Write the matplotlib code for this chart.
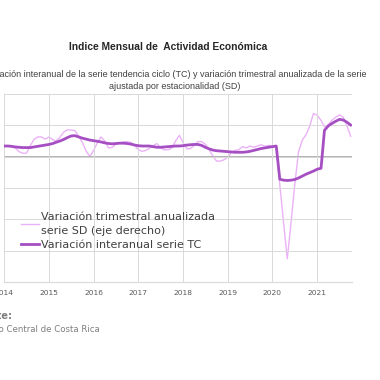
import numpy as np
import pandas as pd
import matplotlib
matplotlib.use("Agg")
import matplotlib.pyplot as plt
import matplotlib.dates as mdates

# ----------------------------
# Datos (ene-2014 a oct-2021, mensual)
# ----------------------------
fechas = pd.date_range("2014-01-01", "2021-10-01", freq="MS")

# Variación interanual serie TC (eje izquierdo)
tc = [
    3.4, 3.4, 3.3, 3.1, 3.0, 2.9, 2.9, 2.9, 3.1, 3.3, 3.5, 3.7,
    3.9, 4.2, 4.6, 5.0, 5.5, 6.1, 6.6, 6.7, 6.3, 5.9, 5.6, 5.3,
    5.1, 4.9, 4.7, 4.4, 4.2, 4.1, 4.2, 4.3, 4.3, 4.2, 4.0, 3.7,
    3.5, 3.4, 3.4, 3.4, 3.2, 3.0, 3.0, 3.1, 3.2, 3.3, 3.4, 3.4,
    3.5, 3.7, 3.8, 3.9, 3.9, 3.6, 3.0, 2.5, 2.1, 1.9, 1.8, 1.7,
    1.6, 1.5, 1.4, 1.4, 1.4, 1.5, 1.7, 2.0, 2.3, 2.6, 2.8, 3.0,
    3.2, 3.4, -7.2, -7.5, -7.6, -7.5, -7.3, -6.8, -6.2, -5.6, -5.1, -4.6,
    -4.0, -3.7, 8.4, 9.8, 10.6, 11.3, 11.9, 11.7, 11.0, 10.1,
]

# Variación trimestral anualizada serie SD (eje derecho)
sd = [
    3.4, 3.3, 3.2, 2.8, 1.6, 1.1, 1.1, 3.5, 5.5, 6.3, 6.3, 5.6,
    6.3, 5.4, 5.0, 6.2, 7.8, 8.6, 8.5, 8.3, 6.5, 4.5, 1.8, 0.0,
    2.0, 4.5, 6.3, 5.0, 2.8, 3.0, 4.0, 4.4, 4.7, 4.8, 4.5, 3.6,
    2.2, 1.7, 2.0, 2.7, 3.5, 4.2, 2.8, 2.2, 2.2, 2.8, 5.0, 6.8,
    4.5, 2.5, 2.6, 3.5, 4.8, 4.8, 4.0, 2.3, 0.2, -1.4, -1.4, -1.0,
    -0.1, 1.4, 2.0, 2.2, 3.2, 2.8, 3.4, 3.0, 3.4, 3.8, 3.3, 3.6,
    3.4, 3.0, -9.0, -21.0, -32.6, -21.0, -9.0, 1.5, 5.3, 7.0, 9.8, 13.8,
    13.2, 11.6, 9.5, 10.2, 11.6, 12.6, 13.3, 12.6, 9.8, 6.5,
]

lbl_sd = "Variación trimestral anualizada\nserie SD (eje derecho)"
lbl_tc = "Variación interanual serie TC"

titulo = "Indice Mensual de  Actividad Económica"
subtitulo = ("Variación interanual de la serie tendencia ciclo (TC) y variación trimestral anualizada de la serie\n"
             "ajustada por estacionalidad (SD)")

# ----------------------------
# Gráfico
# ----------------------------
fig = plt.figure(figsize=(3.8, 3.8), dpi=100)
ax = fig.add_axes([4.3 / 380, 98 / 380, 347.7 / 380, 188 / 380])
ax2 = ax.twinx()

yticks = np.arange(-40, 21, 10)
for a in (ax, ax2):
    a.set_ylim(-40, 20)
    a.set_yticks(yticks)
    a.tick_params(axis="y", length=0, labelleft=False, labelright=False)
    for s in a.spines.values():
        s.set_visible(False)

ax.set_xlim(pd.Timestamp("2014-01-01"), pd.Timestamp("2021-10-12"))
ax.xaxis.set_major_locator(mdates.YearLocator())
ax.xaxis.set_major_formatter(mdates.DateFormatter("%Y"))
ax.tick_params(axis="x", length=0, pad=6, labelsize=5.4, labelcolor="#595959")
ax.grid(True, color="#D9D9D9", linewidth=0.7)
ax.spines["bottom"].set_visible(True)
ax.spines["bottom"].set_color("#D9D9D9")
ax.axhline(0, color="#A6A6A6", linewidth=1.2, zorder=1)

l_sd, = ax2.plot(fechas, sd, color="#EBB2F7", linewidth=1.0, label=lbl_sd)
l_tc, = ax.plot(fechas, tc, color="#A54FC3", linewidth=2.0, label=lbl_tc, zorder=3)

# TC por encima de SD
ax.set_zorder(ax2.get_zorder() + 1)
ax.patch.set_visible(False)

leg = ax.legend(handles=[l_sd, l_tc], loc="upper left", bbox_to_anchor=(17 / 380, 1 - 207.5 / 380),
                bbox_transform=fig.transFigure, frameon=False, fontsize=8.0,
                handlelength=1.6, handletextpad=0.12, labelspacing=0.4, borderaxespad=0)
for t in leg.get_texts():
    t.set_color("#404040")
    t.set_linespacing(1.45)

fig.text(168 / 380, 1 - 47 / 380, titulo, ha="center", va="center", fontsize=7.4,
         fontweight="bold", family="Liberation Sans", color="#262626")
fig.text(175 / 380, 1 - 80.5 / 380, subtitulo, ha="center", va="center", fontsize=6.45,
         family="Liberation Sans", color="#404040", linespacing=1.45)

fig.text(12 / 380, 1 - 316 / 380, "Fuente:", ha="right", va="center", fontsize=7.0,
         fontweight="bold", color="#7F7F7F")
fig.text(100 / 380, 1 - 329 / 380, "Banco Central de Costa Rica", ha="right", va="center",
         fontsize=6.2, color="#7F7F7F")

fig.savefig("out.png", dpi=100)
